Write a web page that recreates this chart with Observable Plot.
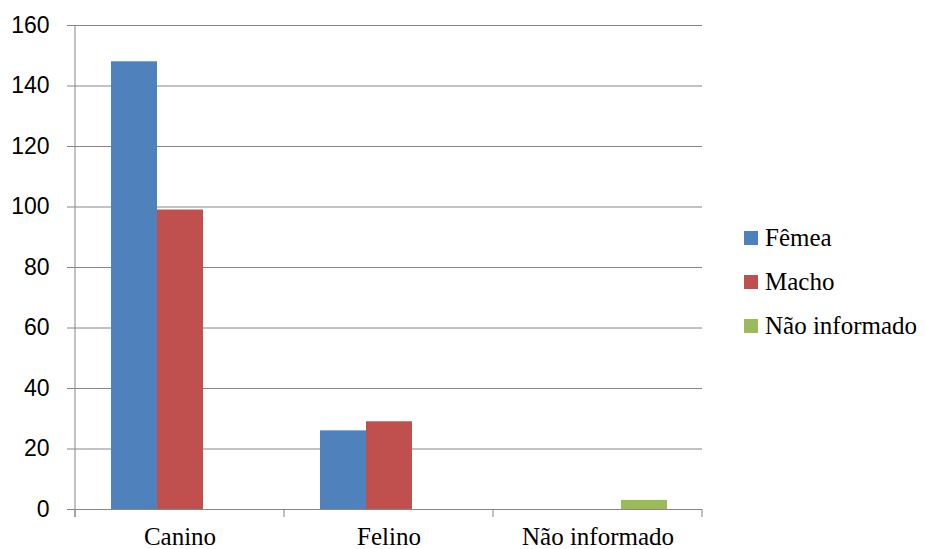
<!DOCTYPE html>
<html><head><meta charset="utf-8">
<script src="https://cdn.jsdelivr.net/npm/d3@7"></script>
<script src="https://cdn.jsdelivr.net/npm/@observablehq/plot@0.6"></script>
<style>
body{margin:0;background:#fff;}
#wrap{position:relative;width:926px;height:549px;overflow:hidden;}
#legend{position:absolute;left:744px;top:216px;font-family:"Liberation Serif","DejaVu Serif","Noto Serif",serif;font-size:25px;color:#000;}
#legend .row{display:flex;align-items:center;height:44px;white-space:nowrap;}
#legend .sw{width:14px;height:14px;margin-right:7px;flex:none;}
</style>
</head><body><div id="wrap"></div>
<script>
const categories = ["Canino", "Felino", "Não informado"];
const series = ["Fêmea", "Macho", "Não informado"];
const femea = [148, 26, 0];
const macho = [99, 29, 0];
const naoInformado = [0, 0, 3];
const colors = ["#4F81BD", "#C0504D", "#9BBB59"];
const yTicks = [0, 20, 40, 60, 80, 100, 120, 140, 160];

const seriesValues = [femea, macho, naoInformado];
const data = [];
categories.forEach((c, i) => {
  series.forEach((s, j) => {
    const v = seriesValues[j][i];
    if (v > 0) data.push({category: c, series: s, value: v});
  });
});

const gridColor = "#868686";
const serif = "\"Liberation Serif\", \"DejaVu Serif\", \"Noto Serif\", serif";

const plot = Plot.plot({
  width: 926, height: 549,
  marginLeft: 74, marginRight: 223, marginTop: 25, marginBottom: 40,
  style: {background: "white", overflow: "visible"},
  fx: {domain: categories, padding: 0, label: null, axis: null},
  x: {domain: series, paddingInner: 0, paddingOuter: 0.73, axis: null},
  y: {domain: [0, 160], label: null},
  color: {domain: series, range: colors},
  marks: [
    Plot.ruleY(yTicks, {stroke: gridColor, strokeWidth: 1}),
    Plot.barY(data, {fx: "category", x: "series", y: "value", fill: "series"}),
    Plot.axisY({ticks: yTicks, tickSize: 8, tickPadding: 18, stroke: gridColor, fill: "#000", fontSize: 23, fontFamily: "\"Liberation Sans\", Arial, sans-serif", tickFormat: d => String(d), label: null}),
    Plot.axisFx({anchor: "bottom", tickSize: 0, tickPadding: 18, fontSize: 25, fontFamily: serif, fill: "#000", label: null})
  ]
});

// axis line and category boundary ticks from the library's scales
const fx = plot.scale("fx");
const y = plot.scale("y");
const bw = fx.bandwidth;
const bounds = categories.map(c => fx.apply(c)).concat([fx.apply(categories[categories.length - 1]) + bw]);
const y0 = y.apply(0), yTop = y.apply(160);
const g = d3.select(plot).append("g").attr("stroke", gridColor).attr("stroke-width", 1);
g.append("line").attr("x1", bounds[0]).attr("x2", bounds[0]).attr("y1", yTop).attr("y2", y0 + 8);
bounds.forEach(x => g.append("line").attr("x1", x).attr("x2", x).attr("y1", y0).attr("y2", y0 + 8));

const wrap = document.getElementById("wrap");
wrap.appendChild(plot);

const legend = document.createElement("div");
legend.id = "legend";
series.forEach((s, i) => {
  const row = document.createElement("div");
  row.className = "row";
  const sw = document.createElement("span");
  sw.className = "sw";
  sw.style.background = colors[i];
  const t = document.createElement("span");
  t.textContent = s;
  row.appendChild(sw); row.appendChild(t);
  legend.appendChild(row);
});
wrap.appendChild(legend);
</script>
</body></html>
